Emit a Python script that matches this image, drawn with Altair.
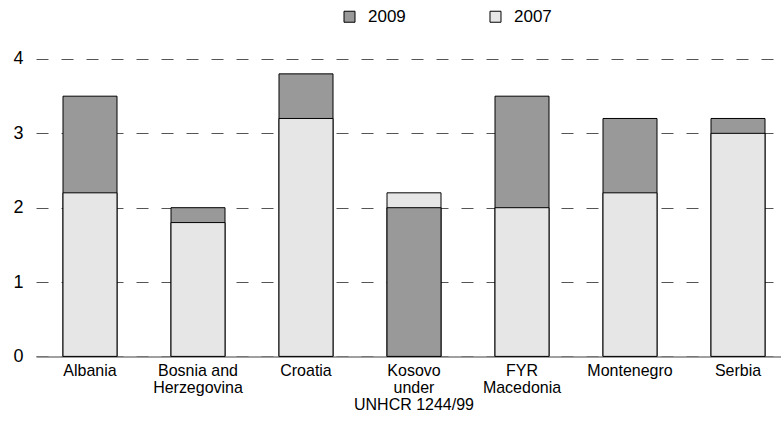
import altair as alt
import pandas as pd

countries = ["Albania", "Bosnia and\nHerzegovina", "Croatia", "Kosovo\nunder\nUNHCR 1244/99",
             "FYR\nMacedonia", "Montenegro", "Serbia"]
v2009 = [3.5, 2.0, 3.8, 2.0, 3.5, 3.2, 3.2]
v2007 = [2.2, 1.8, 3.2, 2.2, 2.0, 2.2, 3.0]
years = ["2009", "2007"]
colors = ["#999999", "#e6e6e6"]

rows = []
for c, a, b in zip(countries, v2009, v2007):
    pair = sorted([("2009", a), ("2007", b)], key=lambda t: -t[1])
    for rank, (yr, v) in enumerate(pair):
        rows.append({"country": c, "year": yr, "value": v, "layer": rank})
df = pd.DataFrame(rows)

FONT = "Liberation Sans"

bars = alt.Chart(df).mark_bar(stroke="black", strokeWidth=1).encode(
    x=alt.X("country:N", sort=countries,
            scale=alt.Scale(paddingInner=0.5, paddingOuter=0.199, align=0.628),
            axis=alt.Axis(title=None, labelAngle=0, labelExpr="split(datum.label, '\\n')",
                          ticks=False, grid=False, domainColor="#808080", domainWidth=1.5,
                          labelFontSize=16, labelPadding=6, labelLineHeight=17,
                          labelColor="black", labelFont=FONT)),
    y=alt.Y("value:Q", stack=None,
            scale=alt.Scale(domain=[0, 4], nice=False),
            axis=alt.Axis(title=None, values=[0, 1, 2, 3, 4], domain=False, ticks=False,
                          gridDash=[12, 13], gridColor="#555555", gridWidth=1.2,
                          labelFontSize=18, labelPadding=13, labelColor="black",
                          labelFont=FONT)),
    color=alt.Color("year:N", scale=alt.Scale(domain=years, range=colors),
                    legend=alt.Legend(orient="none", legendX=305, legendY=-51,
                                      direction="horizontal", title=None,
                                      symbolType="square", symbolSize=121,
                                      symbolStrokeColor="black", symbolStrokeWidth=1,
                                      symbolOpacity=1,
                                      labelFontSize=17, labelOffset=10, labelFont=FONT,
                                      labelColor="black",
                                      columnPadding=81, padding=0)),
    order=alt.Order("layer:Q"),
)

chart = bars.properties(
    width=745, height=297.4,
    autosize=alt.AutoSizeParams(type="none"),
    padding={"left": 36, "top": 59, "right": 0, "bottom": 66},
    background="white",
).configure_view(stroke=None)

chart.save("out.html", embed_options={"renderer": "svg", "actions": False})
